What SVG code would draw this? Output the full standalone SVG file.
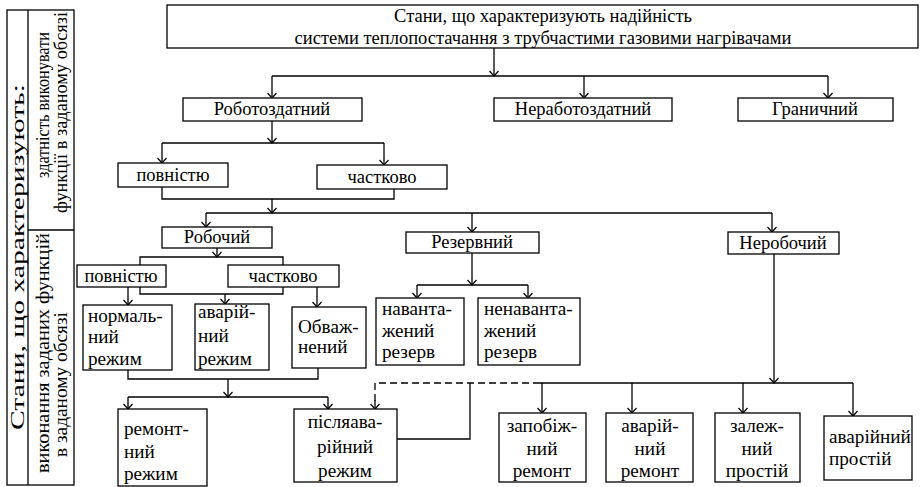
<svg xmlns="http://www.w3.org/2000/svg" width="922" height="487" viewBox="0 0 922 487" font-family="'Liberation Serif', 'Times New Roman', serif">
<defs>
<marker id="ah" markerUnits="userSpaceOnUse" markerWidth="12" markerHeight="12" viewBox="0 0 12 12" refX="6" refY="6" orient="auto">
<path d="M1,1.5 L6,6 L1,10.5" fill="none" stroke="#000" stroke-width="1.2"/>
</marker>
<style>
.b{fill:#fff;stroke:#000;stroke-width:1.3}
.t{font-family:'Liberation Serif','Times New Roman',serif;font-size:18.5px;fill:#000}
.m{font-size:19.2px}
.c{text-anchor:middle}
.l{fill:none;stroke:#000;stroke-width:1.3}
.a{fill:none;stroke:#000;stroke-width:1.3;marker-end:url(#ah)}
.d{fill:none;stroke:#000;stroke-width:1.3;stroke-dasharray:7,4}
</style>
</defs>
<rect width="922" height="487" fill="#fff"/>
<g id="side">
<rect class="b" x="7" y="10" width="67" height="475"/>
<path class="l" d="M28,10 V485 M28,230 H74"/>
<text class="t" transform="translate(24,430) rotate(-90)" textLength="346" lengthAdjust="spacingAndGlyphs" style="font-size:18px">Стани, що  характеризують:</text>
<text class="t" transform="translate(49,178) rotate(-90)" textLength="146" lengthAdjust="spacingAndGlyphs" style="font-size:19px">здатність виконувати</text>
<text class="t" transform="translate(67,213) rotate(-90)" textLength="201" lengthAdjust="spacingAndGlyphs" style="font-size:19px">функції в заданому обсязі</text>
<text class="t" transform="translate(49,473) rotate(-90)" textLength="240" lengthAdjust="spacingAndGlyphs" style="font-size:19px">виконання заданих функцій</text>
<text class="t" transform="translate(67,457) rotate(-90)" textLength="145" lengthAdjust="spacingAndGlyphs" style="font-size:19px">в заданому обсязі</text>
</g>
<g id="connectors">
<path class="a" d="M494,48 V76"/>
<path class="l" d="M272,76 H828"/>
<path class="a" d="M272,76 V98"/>
<path class="a" d="M584,76 V98"/>
<path class="a" d="M828,76 V98"/>
<path class="a" d="M272,121 V143"/>
<path class="l" d="M162,143 H384"/>
<path class="a" d="M162,143 V163"/>
<path class="a" d="M384,143 V165"/>
<path class="l" d="M162,187 V199 H394 V189"/>
<path class="a" d="M272,199 V213"/>
<path class="l" d="M206,213 H772"/>
<path class="a" d="M206,213 V227"/>
<path class="a" d="M472,213 V232"/>
<path class="a" d="M772,213 V232"/>
<path class="a" d="M217,248 V257"/>
<path class="l" d="M140,265 V257 H283 V265"/>
<path class="a" d="M128,287 V305"/>
<path class="l" d="M140,287 V294 H283 V287"/>
<path class="a" d="M225,294 V304"/>
<path class="a" d="M317,287 V307"/>
<path class="l" d="M128,370 V379 H318 V368"/>
<path class="a" d="M228,379 V397"/>
<path class="l" d="M128,397 H328"/>
<path class="a" d="M128,397 V409"/>
<path class="a" d="M328,397 V409"/>
<path class="a" d="M472,253 V285"/>
<path class="l" d="M417,285 H528"/>
<path class="a" d="M417,285 V298"/>
<path class="a" d="M528,285 V298"/>
<path class="a" d="M774,254 V383"/>
<path class="l" d="M540,383 H853"/>
<path class="d" d="M540,383 H375 V402"/>
<path class="a" d="M375,400 V409"/>
<path class="l" d="M397,439 H470 V383"/>
<path class="a" d="M542,383 V413"/>
<path class="a" d="M632,383 V413"/>
<path class="a" d="M743,383 V413"/>
<path class="a" d="M853,383 V416"/>
</g>
<g id="n-top">
<rect class="b" x="167" y="5" width="751" height="43"/>
<text class="t c" x="543" y="22">Стани, що характеризують надійність</text>
<text class="t c" x="543" y="44">системи теплопостачання з трубчастими газовими нагрівачами</text>
</g>
<g id="n-robotozd"><rect class="b" x="183" y="98" width="179" height="23"/><text class="t c" x="272" y="115">Роботоздатний</text></g>
<g id="n-nerobotozd"><rect class="b" x="494" y="98" width="178" height="23"/><text class="t c" x="583" y="115">Неработоздатний</text></g>
<g id="n-granych"><rect class="b" x="738" y="98" width="155" height="23"/><text class="t c" x="815" y="115">Граничний</text></g>
<g id="n-povn1"><rect class="b" x="118" y="163" width="110" height="24"/><text class="t c" x="173" y="181">повністю</text></g>
<g id="n-chast1"><rect class="b" x="317" y="165" width="130" height="24"/><text class="t c" x="382" y="183">частково</text></g>
<g id="n-robochyi"><rect class="b" x="162" y="227" width="110" height="21"/><text class="t c" x="217" y="243">Робочий</text></g>
<g id="n-rezerv"><rect class="b" x="406" y="232" width="133" height="21"/><text class="t c" x="472" y="248">Резервний</text></g>
<g id="n-nerob"><rect class="b" x="728" y="232" width="111" height="22"/><text class="t c" x="783" y="249">Неробочий</text></g>
<g id="n-povn2"><rect class="b" x="77" y="265" width="89" height="22"/><text class="t c" x="121" y="282">повністю</text></g>
<g id="n-chast2"><rect class="b" x="228" y="265" width="111" height="22"/><text class="t c" x="283" y="282">частково</text></g>
<g id="n-normal"><rect class="b" x="83" y="305" width="89" height="65"/><text class="t m" x="88" y="322">нормаль-</text><text class="t m" x="88" y="343">ний</text><text class="t m" x="88" y="365">режим</text></g>
<g id="n-avar"><rect class="b" x="195" y="304" width="74" height="66"/><text class="t m" x="198" y="318">аварій-</text><text class="t m" x="198" y="342">ний</text><text class="t m" x="198" y="365">режим</text></g>
<g id="n-obvazh"><rect class="b" x="292" y="307" width="74" height="61"/><text class="t m" x="298" y="333">Обваж-</text><text class="t m" x="298" y="353">нений</text></g>
<g id="n-navant"><rect class="b" x="376" y="298" width="88" height="67"/><text class="t m" x="382" y="315">наванта-</text><text class="t m" x="382" y="337">жений</text><text class="t m" x="382" y="358">резерв</text></g>
<g id="n-nenavant"><rect class="b" x="478" y="298" width="102" height="67"/><text class="t m" x="484" y="315">ненаванта-</text><text class="t m" x="484" y="337">жений</text><text class="t m" x="484" y="358">резерв</text></g>
<g id="n-remont"><rect class="b" x="118" y="409" width="89" height="77"/><text class="t m" x="124" y="435">ремонт-</text><text class="t m" x="124" y="458">ний</text><text class="t m" x="124" y="480">режим</text></g>
<g id="n-pisliaavar"><rect class="b" x="294" y="409" width="103" height="73"/><text class="t m c" x="345" y="428">післяава-</text><text class="t m c" x="345" y="453">рійний</text><text class="t m c" x="345" y="477">режим</text></g>
<g id="n-zapob"><rect class="b" x="499" y="413" width="87" height="69"/><text class="t m c" x="542" y="432">запобіж-</text><text class="t m c" x="542" y="455">ний</text><text class="t m c" x="542" y="477">ремонт</text></g>
<g id="n-avrem"><rect class="b" x="606" y="413" width="87" height="69"/><text class="t m c" x="650" y="432">аварій-</text><text class="t m c" x="650" y="455">ний</text><text class="t m c" x="650" y="477">ремонт</text></g>
<g id="n-zalezh"><rect class="b" x="715" y="413" width="85" height="69"/><text class="t m c" x="757" y="432">залеж-</text><text class="t m c" x="757" y="455">ний</text><text class="t m c" x="757" y="477">простій</text></g>
<g id="n-avprost"><rect class="b" x="824" y="416" width="88" height="64"/><text class="t m" x="829" y="443">аварійний</text><text class="t m" x="829" y="465">простій</text></g>
</svg>
